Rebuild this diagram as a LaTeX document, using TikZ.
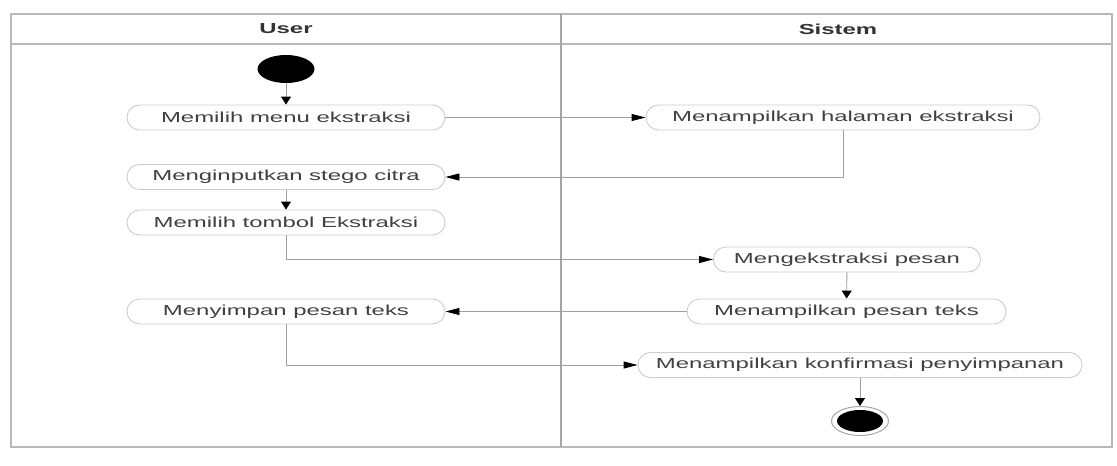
\documentclass[tikz,border=0pt]{standalone}
\usepackage{fontspec}
\setsansfont{Liberation Sans}[FakeStretch=1.65]
\usetikzlibrary{arrows.meta,positioning,shapes.geometric}

\begin{document}
\begin{tikzpicture}[
    x=1pt, y=-1pt,
    font=\sffamily\fontsize{14.5}{16}\selectfont,
    lane/.style={draw=gray!55, line width=1.1pt},
    header/.style={font=\sffamily\bfseries\fontsize{14.5}{16}\selectfont, text=black!80},
    action/.style={
        draw=gray!40,
        line width=0.9pt,
        rounded corners=12.5pt,
        minimum height=25pt,
        inner sep=0pt,
        text=black!75
    },
    initial/.style={ellipse, fill=black, minimum width=57pt, minimum height=28pt, inner sep=0pt},
    final/.style={ellipse, draw=gray!70, line width=1pt, fill=white, minimum width=57pt, minimum height=29pt, inner sep=0pt},
    vflow/.style={draw=gray!75, line width=0.9pt, -{Triangle[length=8pt,width=10pt,color=black]}},
    hflow/.style={draw=gray!75, line width=0.9pt, -{Triangle[length=14pt,width=7pt,color=black]}}
]
\useasboundingbox (0,0) rectangle (1117,466);

% Swimlanes
\draw[lane] (11,14) rectangle (1112,447);
\draw[lane] (11,44) -- (1112,44);
\draw[lane, draw=gray!70] (561,14) -- (561,447);
\node[header] (userhead) at (286,29) {User};
\node[header] (sistemhead) at (838,29) {Sistem};

% =====================================================
% ACTIONS
% =====================================================

\node[initial] (start) at (286,69) {};
\node[action, minimum width=318pt] (menu) at (286,117.5) {Memilih menu ekstraksi};
\node[action, minimum width=394pt] (halaman) at (843,117.5) {Menampilkan halaman ekstraksi};
\node[action, minimum width=318pt] (stego) at (286,177) {Menginputkan stego citra};
\node[action, minimum width=318pt] (tombol) at (286,222.5) {Memilih tombol Ekstraksi};
\node[action, minimum width=267pt] (ekstrak) at (847,259.5) {Mengekstraksi pesan};
\node[action, minimum width=319pt] (tampil) at (846.5,311.5) {Menampilkan pesan teks};
\node[action, minimum width=318pt] (simpan) at (286,311.5) {Menyimpan pesan teks};
\node[action, minimum width=444pt] (konfirm) at (860,365) {Menampilkan konfirmasi penyimpanan};
\node[final] (end) at (860,421) {};
\fill (end.center) ellipse (23 and 11);

% =====================================================
% FLOWS
% =====================================================

\draw[vflow] (start) -- (menu);
\draw[hflow] (menu.east) -- (halaman.west);
\draw[hflow] (halaman.south) |- (stego.east);
\draw[vflow] (stego) -- (tombol);
\draw[hflow] (tombol.south) |- (ekstrak.west);
\draw[vflow] (ekstrak) -- (tampil);
\draw[hflow] (tampil.west) -- (simpan.east);
\draw[hflow] (simpan.south) |- (konfirm.west);
\draw[vflow] (konfirm) -- (end);

\end{tikzpicture}
\end{document}
